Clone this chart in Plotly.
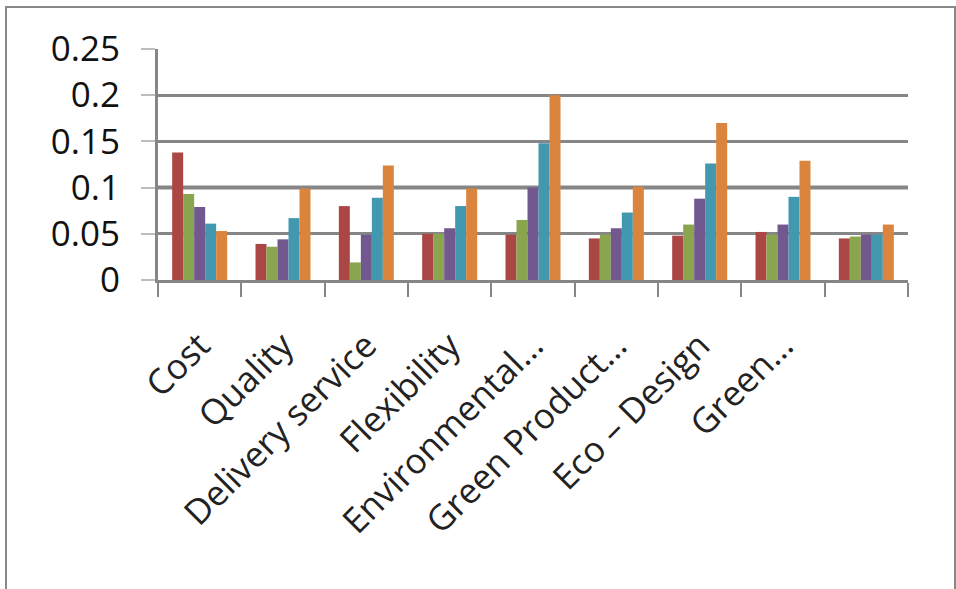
import plotly.graph_objects as go

categories = ["Cost", "Quality", "Delivery service", "Flexibility", "Environmental…",
              "Green Product…", "Eco – Design", "Green…", " "]

series_1 = [0.138, 0.039, 0.080, 0.050, 0.049, 0.045, 0.048, 0.052, 0.045]
series_2 = [0.093, 0.036, 0.019, 0.050, 0.065, 0.049, 0.060, 0.049, 0.047]
series_3 = [0.079, 0.044, 0.049, 0.056, 0.100, 0.056, 0.088, 0.060, 0.049]
series_4 = [0.061, 0.067, 0.089, 0.080, 0.148, 0.073, 0.126, 0.090, 0.049]
series_5 = [0.053, 0.099, 0.124, 0.099, 0.200, 0.101, 0.170, 0.129, 0.060]

y_ticks = [0, 0.05, 0.1, 0.15, 0.2, 0.25]
y_tick_labels = ["0", "0.05", "0.1", "0.15", "0.2", "0.25"]

colors = ["#AA4643", "#89A54E", "#71588F", "#4198AF", "#DB843D"]
all_series = [series_1, series_2, series_3, series_4, series_5]

fig = go.Figure()
for i, s in enumerate(all_series):
    fig.add_trace(go.Bar(x=categories, y=s, marker=dict(color=colors[i], line=dict(width=0)),
                         name=f"Series {i+1}", showlegend=False))

W, H = 956, 589
L, R, T, B = 158, 48, 49, 309
pw, ph = W - L - R, H - T - B

def px(x):
    return (x - L) / pw

def py(y):
    return (H - B - y) / ph

fig.update_layout(
    width=W, height=H,
    margin=dict(l=L, r=R, t=T, b=B),
    paper_bgcolor="white", plot_bgcolor="white",
    barmode="group", bargap=0.34, bargroupgap=0,
    font=dict(family="Open Sans", color="#000000"),
    xaxis=dict(
        type="category", tickangle=-45, tickson="boundaries",
        ticks="outside", ticklen=14, tickwidth=2, tickcolor="#868686",
        showline=True, linecolor="#868686", linewidth=3,
        showgrid=False, tickfont=dict(size=35, color="#222222"),
        ticklabelstandoff=28,
    ),
    yaxis=dict(
        range=[0, 0.25], tickvals=y_ticks, ticktext=y_tick_labels,
        ticks="outside", ticklen=14, tickwidth=2, tickcolor="#BDBDBD",
        showline=True, linecolor="#868686", linewidth=3,
        showgrid=True, gridcolor="#868686", gridwidth=3,
        zeroline=False, tickfont=dict(size=35, color="#111111"),
        ticklabelstandoff=14,
    ),
    shapes=[
        dict(type="line", xref="paper", yref="y", x0=0, x1=1, y0=0.1, y1=0.1,
             line=dict(color="#C3C3C3", width=5), layer="below"),
        dict(type="rect", xref="paper", yref="paper",
             x0=px(6), x1=px(955), y0=py(7), y1=py(620),
             line=dict(color="#888888", width=2), layer="above"),
    ],
)

fig.write_html("out.html")
